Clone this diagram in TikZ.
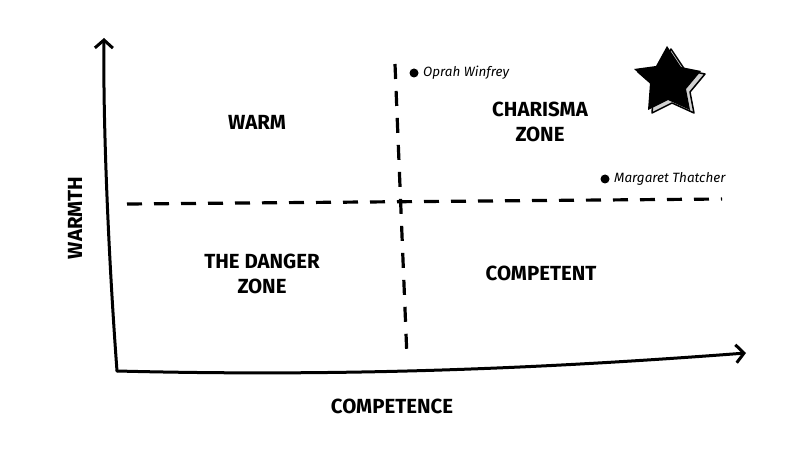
\documentclass[tikz,border=0pt]{standalone}
\usepackage{fontspec}
\setmainfont{Fira Sans}
\usetikzlibrary{arrows.meta}
\begin{document}
\begin{tikzpicture}[x=1bp,y=-1bp,
  axis/.style={line width=3bp, line cap=round, line join=round},
  dashline/.style={line width=3.2bp, dash pattern=on 15bp off 12bp},
  zone/.style={font=\fontsize{20.5}{25}\selectfont\bfseries, align=center, inner sep=0},
  person/.style={font=\fontsize{13.5}{15}\selectfont\itshape, anchor=west, inner sep=0},
  dot/.style={circle, fill=black, inner sep=0, minimum size=9bp},
  tipstyle/.style={-{Straight Barb[length=8bp,width=18bp]}}]
\useasboundingbox (0,0) rectangle (800,450);
\fill[white] (0,0) rectangle (800,450);
% axes
\coordinate (origin) at (117,371);
\coordinate (ytip) at (104,38);
\coordinate (xtip) at (746,353);
\draw[axis, tipstyle] (origin) .. controls (108,250) and (103,120) .. (ytip);
\draw[axis, tipstyle] (origin) .. controls (350,377) and (550,368) .. (xtip);
% dashed quadrant lines
\coordinate (h1) at (127,204);
\coordinate (h2) at (722,199);
\coordinate (v1) at (395,64);
\coordinate (v2) at (407,358);
\draw[dashline] (h1) -- (h2);
\draw[dashline] (v1) -- (v2);
% zone labels
\node[zone] (warm) at (257,122) {WARM};
\node[zone] (charisma) at (540,122) {CHARISMA\\ZONE};
\node[zone] (danger) at (262,274) {THE DANGER\\ZONE};
\node[zone] (competent) at (541,273) {COMPETENT};
\node[zone] (competence) at (392,406) {COMPETENCE};
\node[zone, rotate=90] (warmth) at (75,218) {WARMTH};
% people
\node[dot] (odot) at (414,73) {};
\node[person] (oprah) at (423,73) {Oprah Winfrey};
\node[dot] (mdot) at (605,179) {};
\node[person] (maggie) at (614,179) {Margaret Thatcher};
% star
\begin{scope}[shift={(4,3)}]
\filldraw[fill=gray!35, draw=black, line width=1.5bp, line join=round]
  (667,46) -- (681,67) -- (701,71) -- (686,89) -- (690,110) -- (668,100)
  -- (648,110) -- (650,83) -- (634,69) -- (656,66) -- cycle;
\end{scope}
\fill[black]
  (667,46) -- (681,67) -- (701,71) -- (686,89) -- (690,110) -- (668,100)
  -- (648,110) -- (650,83) -- (634,69) -- (656,66) -- cycle;
\end{tikzpicture}
\end{document}
